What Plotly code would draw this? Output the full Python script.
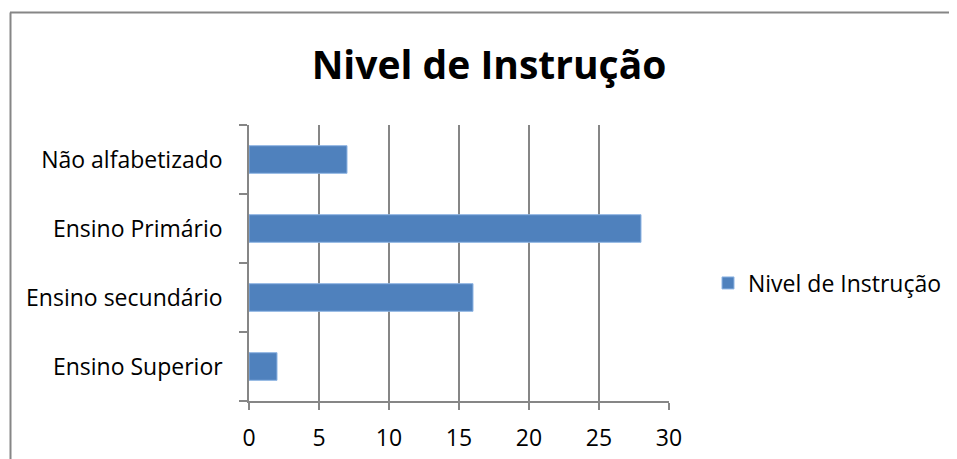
import plotly.graph_objects as go

categories = ["Ensino Superior", "Ensino secundário", "Ensino Primário", "Não alfabetizado"]
values = [2, 16, 28, 7]
series_name = "Nivel de Instrução"
x_ticks = [0, 5, 10, 15, 20, 25, 30]

# the page body adds an 8px margin, so positions are given in figure
# pixels (window pixel minus 8)
W, H = 949, 451
L, R, T, B = 241, 288, 117, 58
pw, ph = W - L - R, H - T - B


def px_x(p):
    return (p - L) / pw


def px_y(p):
    return (H - B - p) / ph


FONT = "Open Sans"
GRAY = "#868686"

fig = go.Figure()
fig.add_trace(go.Bar(
    y=categories, x=values, orientation="h", name=series_name,
    marker=dict(color="#4F81BD", line=dict(color="#8EB4E3", width=1)),
    showlegend=True,
))

fig.update_layout(
    width=W, height=H,
    margin=dict(l=L, r=R, t=T, b=B, autoexpand=False),
    paper_bgcolor="white", plot_bgcolor="white",
    font=dict(family=FONT, size=23, color="black"),
    title=dict(text="<b>Nivel de Instrução</b>", font=dict(family=FONT, size=39, color="black"),
               x=481 / W, xanchor="center", y=1 - 57 / H, yanchor="middle",
               xref="container", yref="container"),
    bargap=0.6,
    showlegend=True,
    legend=dict(x=px_x(700), xanchor="left", y=px_y(275), yanchor="middle",
                font=dict(family=FONT, size=23, color="black"),
                bgcolor="rgba(0,0,0,0)", itemwidth=30),
    xaxis=dict(range=[0, 30], tickvals=x_ticks, showgrid=True, gridcolor=GRAY, gridwidth=1.5,
               showline=True, linecolor=GRAY, linewidth=1.5, ticks="outside", ticklen=7,
               tickcolor=GRAY, tickwidth=1.5, zeroline=False, ticklabelstandoff=9,
               tickfont=dict(family=FONT, size=23, color="black"), fixedrange=True,
               automargin=False),
    yaxis=dict(showgrid=False, showline=True, linecolor=GRAY, linewidth=1.5,
               ticks="outside", tickson="boundaries", ticklen=8, tickcolor=GRAY, tickwidth=1.5,
               ticklabelstandoff=20, tickfont=dict(family=FONT, size=23, color="black"),
               fixedrange=True, automargin=False),
    shapes=[
        dict(type="line", xref="paper", yref="paper", x0=px_x(2), x1=px_x(W),
             y0=px_y(4.5), y1=px_y(4.5), line=dict(color=GRAY, width=2)),
        dict(type="line", xref="paper", yref="paper", x0=px_x(2.5), x1=px_x(2.5),
             y0=px_y(4.5), y1=px_y(H), line=dict(color=GRAY, width=2)),
    ],
)

fig.write_html("out.html")
